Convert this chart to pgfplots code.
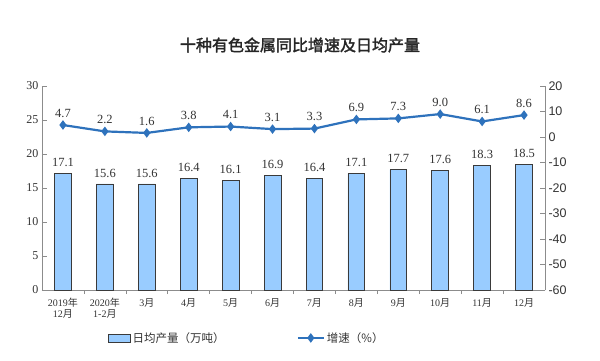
\documentclass[border=0pt]{standalone}
\usepackage{pgfplots}
\pgfplotsset{compat=1.18}
\usepackage{fontspec}
\setmainfont{Liberation Serif}
\newfontfamily\cjk{Noto Sans CJK SC}
\newfontfamily\cjkb{Noto Sans CJK SC}[FakeBold=2]
\newfontfamily\arial{Liberation Sans}
\newcommand\nian{{\cjk 年}}
\newcommand\yue{{\cjk 月}}
\definecolor{barfill}{HTML}{99CCFF}
\definecolor{bardraw}{HTML}{3A3A3A}
\definecolor{linec}{HTML}{2E72BC}
\definecolor{txt}{HTML}{333333}
\definecolor{axc}{HTML}{8C8C8C}
\begin{document}
\begin{tikzpicture}
\useasboundingbox (0,0) rectangle (600pt,360pt);
\node[font=\cjkb\fontsize{16}{16}\selectfont, text=black!85] at (300pt,315pt) {十种有色金属同比增速及日均产量};
\begin{axis}[
  at={(42pt,70pt)}, anchor=south west,
  scale only axis, width=503pt, height=204pt,
  xmin=-0.5, xmax=11.5, ymin=0, ymax=30,
  ytick={0,5,...,30},
  axis x line*=bottom, axis y line*=left,
  axis line style={axc, line width=0.8pt, -},
  xtick={0,...,11},
  xticklabels={2019\nian\\12\yue, 2020\nian\\1-2\yue, 3\yue, 4\yue, 5\yue, 6\yue, 7\yue, 8\yue, 9\yue, 10\yue, 11\yue, 12\yue},
  xticklabel style={align=center, font=\fontsize{10}{11}\selectfont, text=txt},
  major x tick style={draw=none},
  minor xtick={0.5,1.5,...,10.5},
  minor x tick style={axc, line width=0.6pt},
  minor tick length=4pt,
  major tick length=5pt,
  tick align=inside,
  y tick style={axc, line width=0.6pt},
  yticklabel style={font=\fontsize{12}{12}\selectfont, text=txt},
  /pgf/number format/assume math mode=true,
  ybar, bar width=0.4,
  nodes near coords={\pgfmathprintnumber[fixed,fixed zerofill,precision=1]{\pgfplotspointmeta}},
  every node near coord/.append style={font=\fontsize{12.5}{12.5}\selectfont, text=txt, yshift=3pt},
]
\addplot[fill=barfill, draw=bardraw, line width=0.8pt] coordinates {
(0,17.1) (1,15.6) (2,15.6) (3,16.4) (4,16.1) (5,16.9) (6,16.4) (7,17.1) (8,17.7) (9,17.6) (10,18.3) (11,18.5)};
\end{axis}
\begin{axis}[
  at={(42pt,70pt)}, anchor=south west,
  scale only axis, width=503pt, height=204pt,
  xmin=-0.5, xmax=11.5, ymin=-60, ymax=20,
  ytick={-60,-50,...,20},
  yticklabels={-60,-50,-40,-30,-20,-10,0,10,20},
  axis x line=none, axis y line*=right,
  axis line style={axc, line width=0.8pt, -},
  tick align=inside, major tick length=5pt,
  y tick style={axc, line width=0.6pt},
  yticklabel style={font=\arial\fontsize{12.5}{12.5}\selectfont, text=txt},
  /pgf/number format/assume math mode=true,
  nodes near coords={\pgfmathprintnumber[fixed,fixed zerofill,precision=1]{\pgfplotspointmeta}},
  every node near coord/.append style={font=\fontsize{12.5}{12.5}\selectfont, text=txt, yshift=3pt},
  legend style={at={(0.407,-0.235)}, anchor=center, draw=none, fill=none,
    legend columns=2, font=\cjk\fontsize{11.5}{12}\selectfont, text=txt,
    /tikz/every even column/.append style={column sep=70pt}},
  legend image code/.code={\draw[#1] (0pt,0pt) -- (26pt,0pt); \path[#1, only marks] plot coordinates {(13pt,0pt)};},
]
\addlegendimage{legend image code/.code={\draw[fill=barfill, draw=bardraw, line width=0.8pt] (0pt,-4pt) rectangle (22pt,4pt);}}
\addlegendentry{日均产量（万吨）}
\addplot[linec, line width=2.2pt, mark=diamond*, mark size=3pt, mark options={fill=linec, draw=linec}] coordinates {
(0,4.7) (1,2.2) (2,1.6) (3,3.8) (4,4.1) (5,3.1) (6,3.3) (7,6.9) (8,7.3) (9,9.0) (10,6.1) (11,8.6)};
\addlegendentry{增速（\%）}
\end{axis}
\end{tikzpicture}
\end{document}
